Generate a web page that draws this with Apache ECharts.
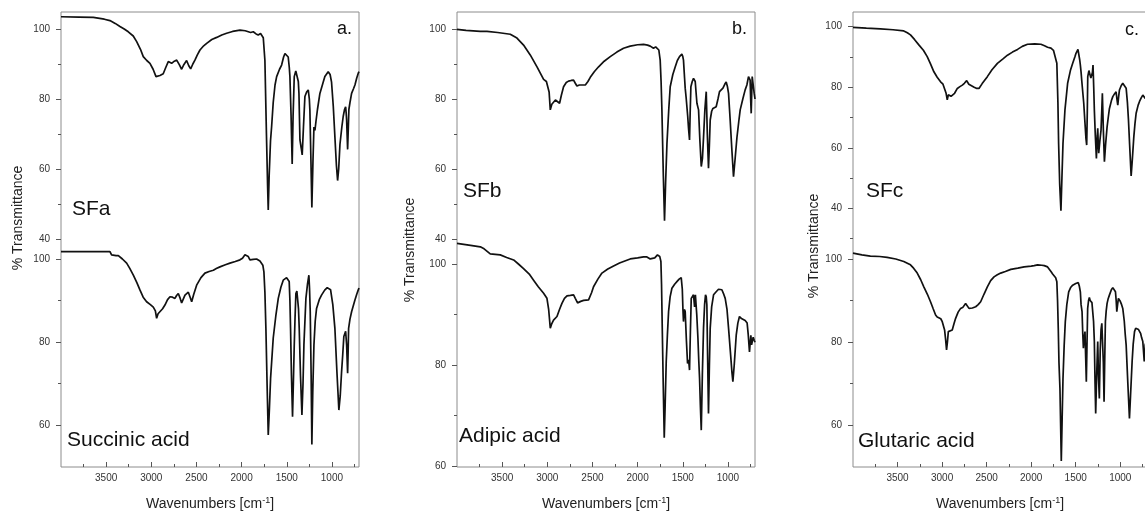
<!DOCTYPE html>
<html>
<head>
<meta charset="utf-8">
<title>FTIR spectra</title>
<script src="https://cdn.jsdelivr.net/npm/echarts@6/dist/echarts.min.js"></script>
<style>
  html, body { margin: 0; padding: 0; background: #fff; }
  #chart { width: 1145px; height: 513px; }
</style>
</head>
<body>
<div id="chart"></div>
<script>
"use strict";

// wavenumber axis (reversed), ticks
var waveMin = 700, waveMax = 4000;
var waveTicks = [3500, 3000, 2500, 2000, 1500, 1000];
var waveMinorTicks = [3750, 3250, 2750, 2250, 1750, 1250, 750];

// transmittance ticks
var topTicks = [40, 60, 80, 100];
var topMinorAB = [50, 70, 90];
var topMinorC = [30, 50, 70, 90];
var bottomTicks = [60, 80, 100];
var bottomMinor = [70, 90];

var panelLetters = ['a.', 'b.', 'c.'];
var topNames = ['SFa', 'SFb', 'SFc'];
var bottomNames = ['Succinic acid', 'Adipic acid', 'Glutaric acid'];

// spectra: [wavenumber, % transmittance]
var sfa = [[4000,103.5],[3800,103.4],[3642,103.3],[3520,102.8],[3458,102.4],[3400,101.6],[3347,100.7],[3300,100.0],[3255,99.2],[3200,98.0],[3162,96.4],[3120,94.2],[3089,92.1],[3050,91.0],[3015,90.2],[2980,88.5],[2948,86.4],[2930,86.6],[2904,86.7],[2868,87.2],[2840,89.0],[2812,90.7],[2790,90.4],[2775,90.2],[2745,90.8],[2719,91.1],[2690,89.8],[2664,88.5],[2640,89.8],[2609,91.0],[2585,89.5],[2564,88.6],[2540,90.0],[2517,91.1],[2490,92.6],[2461,94.0],[2420,95.2],[2387,95.9],[2330,97.0],[2276,97.6],[2220,98.3],[2166,98.8],[2100,99.3],[2018,99.7],[1960,99.5],[1900,99.0],[1871,99.2],[1840,98.6],[1816,98.3],[1790,98.7],[1775,98.8],[1760,97.5],[1742,91.0],[1725,70],[1712,55],[1705,48.3],[1695,58],[1680,68],[1668,72],[1650,79],[1630,84],[1612,86.4],[1580,88.5],[1557,89.7],[1535,92],[1520,93],[1500,92.5],[1484,92],[1472,89],[1465,86.4],[1452,75],[1440,61.4],[1430,75],[1417,86.4],[1400,88],[1384,88.3],[1372,85],[1365,81.6],[1354,68.3],[1340,66],[1329,64],[1315,72],[1299,80.7],[1280,82],[1262,82.6],[1250,80],[1244,76.9],[1232,62],[1222,49],[1210,62],[1199,72],[1188,71],[1177,73.5],[1160,77],[1133,81.6],[1100,84.5],[1078,86.4],[1041,87.8],[1020,87],[1004,84.8],[985,78],[967,69.2],[950,61],[937,56.7],[925,60],[911,67],[890,72],[875,75],[860,77],[848,77.8],[842,76],[837,74],[826,65.6],[818,72],[812,77],[800,79],[782,81.6],[760,83],[745,84],[725,86],[709,87.3],[700,87.8]];

var succinic = [[4000,101.8],[3700,101.8],[3458,101.8],[3440,101.0],[3420,101.0],[3390,100.8],[3365,100.8],[3320,100.0],[3273,99.0],[3240,97.8],[3199,96.1],[3160,94.3],[3125,92.5],[3090,90.8],[3052,89.7],[3010,89.0],[2978,88.4],[2955,87.5],[2941,85.7],[2925,86.8],[2904,87.2],[2875,88.0],[2849,88.9],[2820,90.2],[2793,90.9],[2765,90.8],[2738,90.5],[2720,91.2],[2701,91.7],[2680,90.5],[2664,89.4],[2645,90.4],[2627,91.3],[2590,92.0],[2570,90.8],[2553,89.7],[2530,91.5],[2498,93.7],[2450,95.5],[2406,96.6],[2360,97.0],[2313,97.3],[2280,97.7],[2240,98.1],[2180,98.6],[2129,99.0],[2070,99.4],[2018,99.8],[1990,100.2],[1963,101.0],[1945,100.9],[1926,100.6],[1908,99.8],[1871,99.9],[1834,100.0],[1797,99.5],[1778,99.4],[1765,98.5],[1753,96.9],[1742,92],[1731,83.3],[1718,70],[1705,57.6],[1692,64],[1679,71.3],[1650,80.9],[1620,86.5],[1594,90.5],[1565,93.2],[1539,94.9],[1502,95.5],[1482,95.2],[1473,94.6],[1465,90],[1458,83.3],[1448,72],[1436,62],[1427,70],[1417,79.3],[1408,86],[1399,91.7],[1388,92.3],[1377,92],[1370,88],[1362,83.3],[1348,72],[1332,62.4],[1320,70],[1310,79.3],[1288,90.5],[1270,94],[1255,96.1],[1248,93],[1240,87.3],[1230,72],[1222,55.3],[1212,68],[1199,79.3],[1185,85],[1170,88.1],[1140,90.2],[1115,91.3],[1080,92.5],[1052,93.1],[1030,93.0],[1015,92.6],[990,89],[967,83.3],[945,73],[923,63.6],[908,67],[893,72.8],[880,77],[868,81.3],[848,82.6],[837,79.3],[826,72.5],[820,78],[815,83.3],[800,85.5],[782,87.3],[760,89],[745,90.1],[725,91.5],[709,92.5],[700,93]];

var sfb = [[4000,99.9],[3900,99.6],[3742,99.3],[3668,99.3],[3550,99.0],[3410,98.5],[3336,97.4],[3263,95.4],[3189,92.6],[3114,89.2],[3041,85.6],[3010,85.0],[2993,84.6],[2980,82],[2967,76.9],[2950,78.5],[2931,79.0],[2910,79.7],[2893,79.7],[2864,78.8],[2845,81],[2820,83.5],[2790,84.7],[2765,85.1],[2735,85.3],[2709,85.4],[2690,84.5],[2672,83.7],[2645,84.0],[2616,84.0],[2579,84.0],[2550,85],[2524,86.2],[2480,87.8],[2432,89.2],[2370,90.8],[2303,92.1],[2230,93.4],[2156,94.5],[2082,95.1],[2000,95.5],[1934,95.6],[1890,95.4],[1860,95.1],[1824,94.5],[1800,94.9],[1780,95.1],[1765,94],[1750,91.1],[1740,85],[1731,76.9],[1715,58],[1702,45.2],[1690,56],[1675,67.3],[1655,77],[1639,83.5],[1610,87],[1583,89.2],[1560,91],[1536,92.1],[1510,92.8],[1500,92.2],[1492,91.1],[1480,86],[1473,83.1],[1463,80.5],[1455,80],[1445,75],[1436,71.6],[1425,68.3],[1418,76],[1410,83.5],[1395,85],[1381,85.9],[1370,85.5],[1362,85],[1350,81],[1343,78.8],[1325,76.9],[1310,68],[1295,60.7],[1282,63],[1270,69],[1255,77],[1240,82.1],[1228,70],[1215,60.2],[1205,67],[1196,74],[1180,76.5],[1166,77.3],[1148,77.5],[1130,77.8],[1110,80],[1093,82.1],[1075,82.5],[1055,83.1],[1035,84.2],[1019,84.9],[1005,83.5],[993,81.6],[975,74],[955,65],[938,57.8],[920,63],[900,69],[880,73.5],[864,76.9],[835,80],[809,82.6],[790,84],[772,86.4],[760,86.5],[754,85.4],[748,80],[742,75.9],[736,82],[731,86.4],[720,84],[709,81.6],[700,80]];

var adipic = [[4000,104.1],[3850,103.7],[3742,103.4],[3700,103.0],[3632,102.0],[3521,101.8],[3450,101.3],[3373,100.8],[3320,100.0],[3263,99.1],[3200,98.0],[3152,96.8],[3100,95.5],[3041,94.2],[3004,93.2],[2985,91],[2967,87.3],[2950,88.2],[2931,88.9],[2910,89.0],[2893,89.6],[2865,91],[2838,92.2],[2810,93.2],[2782,93.7],[2745,93.8],[2709,93.9],[2690,93.2],[2665,92.3],[2630,92.6],[2598,92.8],[2543,92.9],[2510,94.3],[2488,95.5],[2440,97.0],[2395,98.2],[2330,99.0],[2266,99.6],[2200,100.2],[2156,100.5],[2082,101.0],[2000,101.2],[1934,101.4],[1897,101.4],[1860,101.0],[1842,100.8],[1810,101.2],[1780,101.8],[1768,101.8],[1755,101.5],[1742,100.5],[1735,96],[1727,87.3],[1716,76],[1705,65.6],[1695,72],[1683,80.7],[1670,86],[1657,90.6],[1640,93.5],[1620,95.2],[1590,96.0],[1565,96.5],[1540,97.0],[1517,97.3],[1505,95],[1498,91],[1492,88.6],[1483,91],[1473,90.6],[1460,85],[1447,80.3],[1435,81],[1425,79],[1415,87],[1406,93.2],[1395,93.5],[1381,93.9],[1369,91.5],[1360,93.9],[1355,94.2],[1345,90],[1332,85.3],[1323,81],[1314,77.4],[1305,72],[1295,67.1],[1283,78],[1270,87.3],[1258,92],[1248,93.9],[1240,93.5],[1233,91.9],[1225,82],[1215,70.4],[1205,80],[1196,87.3],[1180,91.5],[1159,93.9],[1130,94.5],[1104,95.0],[1085,95.2],[1067,94.9],[1050,94.2],[1030,93.2],[1010,91],[993,87.3],[970,82],[955,78.5],[945,76.7],[930,80],[908,85.9],[890,88.3],[872,89.6],[850,89.2],[830,88.9],[809,88.8],[795,88.5],[787,88.3],[775,86],[761,82.6],[755,84],[746,85.9],[738,84],[731,84.2],[720,85.5],[709,84.9],[700,84.5]];

var sfc = [[4000,99.8],[3850,99.5],[3693,99.3],[3550,99.0],[3430,98.6],[3390,98.0],[3355,97.3],[3310,95.8],[3261,94.0],[3210,92.2],[3167,90.1],[3130,87.7],[3092,85.1],[3055,83.3],[3017,81.8],[2990,81],[2972,80.4],[2955,78],[2942,75.8],[2930,77.5],[2916,77.8],[2900,77],[2886,76.4],[2860,78],[2829,79.6],[2800,80.2],[2773,80.7],[2750,81.3],[2724,82.2],[2700,81],[2679,80.4],[2640,80],[2610,79.6],[2586,79.6],[2550,81.2],[2492,83.5],[2440,85.8],[2379,87.9],[2320,89.3],[2266,90.6],[2210,91.6],[2153,92.5],[2100,93.5],[2041,94.2],[1960,94.3],[1891,94.2],[1850,93.7],[1816,93.2],[1778,92.9],[1750,92.2],[1730,91.7],[1712,87.9],[1700,75],[1692,61.4],[1680,48],[1666,39.2],[1655,50],[1643,61.4],[1621,72.5],[1591,81.3],[1560,85.5],[1534,87.9],[1510,90],[1497,91.2],[1475,92.5],[1467,92.3],[1455,89],[1448,87.3],[1440,85],[1433,82.4],[1420,78],[1410,74.7],[1396,68.1],[1385,63],[1377,60.9],[1370,72],[1365,83.5],[1352,85.5],[1340,85.1],[1330,83],[1321,82.4],[1312,85],[1306,87.3],[1298,80],[1291,72.5],[1280,64],[1268,56.5],[1260,63],[1253,66.4],[1248,62],[1242,58.2],[1230,62],[1216,65.8],[1208,72],[1201,78],[1190,66],[1178,55.4],[1165,61],[1148,66.9],[1135,70],[1122,72.9],[1100,75.5],[1084,76.9],[1065,77.8],[1047,78.5],[1037,76],[1028,74.1],[1018,77],[1009,79.1],[990,80.5],[972,81.3],[955,81],[934,79.7],[920,75],[908,69.2],[895,61],[878,50.7],[865,56],[848,63.6],[835,68],[822,71.4],[800,74],[784,75.3],[765,76.5],[747,77.4],[735,77.8],[720,76.3],[710,77.5],[700,78]];

var glutaric = [[4000,101.4],[3900,101.0],[3805,100.7],[3700,100.6],[3617,100.4],[3520,100.0],[3430,99.4],[3390,99.0],[3355,98.6],[3320,97.8],[3279,96.6],[3240,95.0],[3205,93.3],[3165,91.5],[3130,89.7],[3100,88.0],[3073,86.5],[3055,86.0],[3036,86.1],[3015,85.6],[2998,84.9],[2985,85.2],[2972,82.9],[2960,80.5],[2950,78.1],[2940,80],[2930,82.5],[2910,82.8],[2886,82.9],[2865,84.5],[2848,85.7],[2820,87.2],[2792,88.1],[2765,88.4],[2736,89.3],[2718,89],[2698,88.1],[2660,88.2],[2623,88.5],[2595,89],[2567,89.7],[2530,91.5],[2492,93.3],[2455,94.8],[2417,95.7],[2380,96.2],[2342,96.6],[2290,97.0],[2229,97.5],[2150,97.8],[2079,98.1],[2000,98.3],[1966,98.4],[1928,98.6],[1880,98.5],[1853,98.4],[1816,98.1],[1778,97.0],[1759,96.4],[1741,96.1],[1725,95.5],[1712,94.5],[1704,90],[1696,83.3],[1688,75],[1677,68.8],[1662,51.3],[1652,62],[1643,71.2],[1630,79],[1617,84.9],[1600,89],[1579,92.1],[1555,93.2],[1534,93.7],[1500,94.1],[1471,94.3],[1460,93.5],[1448,92.1],[1440,89],[1429,87.3],[1421,82],[1414,78.5],[1405,81],[1396,82.5],[1388,76],[1381,70.4],[1373,80],[1366,88.1],[1356,90],[1347,90.7],[1338,90],[1328,89.7],[1318,89.5],[1309,89.3],[1300,85],[1291,80.1],[1283,70],[1276,62.8],[1265,72],[1253,80.1],[1245,72],[1235,66.4],[1225,78],[1216,82.9],[1207,84.5],[1197,84.1],[1190,75],[1182,65.6],[1175,75],[1167,84.9],[1158,87.5],[1148,89.3],[1135,90.5],[1122,91.3],[1100,92.6],[1084,93.1],[1070,92.8],[1054,92.1],[1046,90],[1039,87.3],[1030,89],[1021,90.5],[1000,89.8],[985,89],[972,88.1],[955,85],[945,82],[934,79.3],[915,70],[897,61.6],[885,67],[867,75.3],[855,79.5],[840,82.5],[827,83.3],[814,83.4],[795,83],[772,82.1],[760,81],[747,80.1],[740,78],[731,75.3],[725,77],[720,79.3],[710,80],[700,80.5]];

var topSpectra = [sfa, sfb, sfc];
var bottomSpectra = [succinic, adipic, glutaric];

var FONT = 'Liberation Sans, Arial, sans-serif';
var frameTop = 12, split = 248, frameBottom = 467;

// axis range that puts value v1 at row p1 and v2 at row p2
function span(topPx, botPx, v1, p1, v2, p2) {
    var k = (v1 - v2) / (p2 - p1);
    return { max: v1 + (p1 - topPx) * k, min: v1 - (botPx - p1) * k };
}

var panels = [
    { left: 61, width: 298, top: span(frameTop, split, 100, 29, 40, 239), bottom: span(split, frameBottom, 100, 259, 60, 425),
      topMinor: topMinorAB, yTitle: [18, 218], letter: [337, 29], topName: [72, 209], bottomName: [67, 440] },
    { left: 457, width: 298, top: span(frameTop, split, 100, 29, 40, 239), bottom: span(split, frameBottom, 100, 264, 60, 466),
      topMinor: topMinorAB, yTitle: [410, 250], letter: [732, 29], topName: [463, 191], bottomName: [459, 436] },
    { left: 853, width: 294, top: span(frameTop, split, 100, 26.7, 40, 208.3), bottom: span(split, frameBottom, 100, 259, 60, 425),
      topMinor: topMinorC, yTitle: [814, 246], letter: [1125, 30], topName: [866, 191], bottomName: [858, 441] }
];

var grids = [], xAxes = [], yAxes = [], series = [], texts = [];
var tickColor = '#555', labelColor = '#333';

function plain(v) { return String(v); }

function hiddenAxis(gi, extra) {
    return Object.assign({ gridIndex: gi, type: 'value', show: false, splitLine: { show: false } }, extra || {});
}

function yPair(gi, range, major, minor) {
    var base = { gridIndex: gi, type: 'value', position: 'left', min: range.min, max: range.max,
                 splitLine: { show: false }, axisLine: { show: false } };
    yAxes.push(Object.assign({}, base, {
        axisTick: { show: true, customValues: major, length: 5, lineStyle: { color: tickColor } },
        axisLabel: { customValues: major, formatter: plain, margin: 11, color: labelColor, fontSize: 10, fontFamily: FONT }
    }));
    yAxes.push(Object.assign({}, base, {
        axisTick: { show: true, customValues: minor, length: 3, lineStyle: { color: tickColor } },
        axisLabel: { show: false }
    }));
    return yAxes.length - 2;
}

panels.forEach(function (p, i) {
    var h = frameBottom - frameTop;
    var gFrame = grids.length;
    grids.push({ left: p.left, top: frameTop, width: p.width, height: h, show: true,
                 borderColor: '#8c8c8c', borderWidth: 1, backgroundColor: 'rgba(0,0,0,0)', outerBoundsMode: 'none' });
    grids.push({ left: p.left, top: frameTop, width: p.width, height: split - frameTop, outerBoundsMode: 'none' });
    grids.push({ left: p.left, top: split, width: p.width, height: frameBottom - split, outerBoundsMode: 'none' });
    var gTop = gFrame + 1, gBot = gFrame + 2;

    xAxes.push(hiddenAxis(gFrame));
    yAxes.push(hiddenAxis(gFrame));

    // top layer
    var xTop = xAxes.length;
    xAxes.push(hiddenAxis(gTop, { min: waveMin, max: waveMax, inverse: true }));
    var yTop = yPair(gTop, p.top, topTicks, p.topMinor);

    // bottom layer with wavenumber axis
    var xBot = xAxes.length;
    xAxes.push({
        gridIndex: gBot, type: 'value', position: 'bottom', min: waveMin, max: waveMax, inverse: true,
        splitLine: { show: false }, axisLine: { show: false },
        axisTick: { inside: true, customValues: waveTicks, length: 5, lineStyle: { color: tickColor } },
        axisLabel: { customValues: waveTicks, formatter: plain, margin: 6, color: labelColor, fontSize: 10, fontFamily: FONT },
        name: 'Wavenumbers [cm{sup|-1}]', nameLocation: 'middle', nameGap: 29,
        nameTextStyle: { fontSize: 14, color: '#222', fontFamily: FONT, lineHeight: 16,
                         rich: { sup: { fontSize: 9, verticalAlign: 'top', lineHeight: 16, color: '#222', fontFamily: FONT } } }
    });
    xAxes.push({
        gridIndex: gBot, type: 'value', position: 'bottom', min: waveMin, max: waveMax, inverse: true,
        splitLine: { show: false }, axisLine: { show: false },
        axisTick: { inside: true, customValues: waveMinorTicks, length: 3, lineStyle: { color: tickColor } },
        axisLabel: { show: false }
    });
    var yBot = yPair(gBot, p.bottom, bottomTicks, bottomMinor);

    [[xTop, yTop, topSpectra[i], topNames[i]], [xBot, yBot, bottomSpectra[i], bottomNames[i]]].forEach(function (s) {
        series.push({
            name: s[3], type: 'line', xAxisIndex: s[0], yAxisIndex: s[1], data: s[2],
            symbol: 'none', clip: false, silent: true,
            lineStyle: { color: '#111', width: 1.7 }
        });
    });

    texts.push({ type: 'text', x: p.yTitle[0], y: p.yTitle[1], rotation: Math.PI / 2,
                 style: { text: '% Transmittance', font: '14px ' + FONT, fill: '#222', textAlign: 'center', textVerticalAlign: 'middle' } });
    texts.push({ type: 'text', x: p.letter[0], y: p.letter[1],
                 style: { text: panelLetters[i], font: '18px ' + FONT, fill: '#111', textAlign: 'left', textVerticalAlign: 'middle' } });
    texts.push({ type: 'text', x: p.topName[0], y: p.topName[1],
                 style: { text: topNames[i], font: '21px ' + FONT, fill: '#111', textAlign: 'left', textVerticalAlign: 'middle' } });
    texts.push({ type: 'text', x: p.bottomName[0], y: p.bottomName[1],
                 style: { text: bottomNames[i], font: '21px ' + FONT, fill: '#111', textAlign: 'left', textVerticalAlign: 'middle' } });
});

var chart = echarts.init(document.getElementById('chart'));
chart.setOption({
    animation: false,
    backgroundColor: '#fff',
    grid: grids,
    xAxis: xAxes,
    yAxis: yAxes,
    series: series,
    graphic: texts
});
</script>
</body>
</html>
